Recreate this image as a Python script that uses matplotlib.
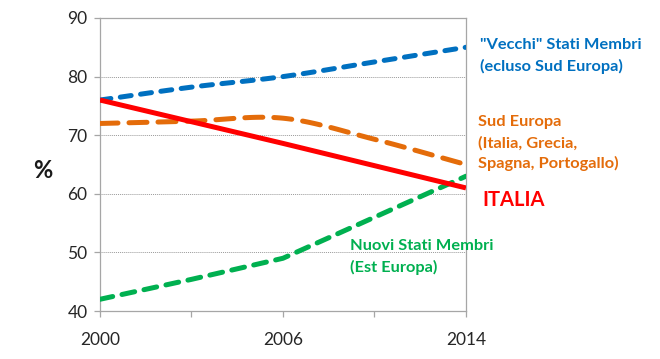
import numpy as np
import matplotlib
matplotlib.use('Agg')
import matplotlib.pyplot as plt

plt.rcParams['font.family'] = ['Lato', 'DejaVu Sans']

# data
years = ['2000', '', '2006', '', '2014']
vecchi = [76, 78.2, 80, 82.5, 85]
sud = [72, 72.4, 72.9, 69.3, 65]
italia = [76, 72.3, 68.6, 64.8, 61]
nuovi = [42, 45.4, 49, 56, 63]

blue = '#0070C0'
orange = '#E46C0A'
red = '#FF0000'
green = '#00B050'


def smooth(y, n=30):
    # catmull-rom spline, like Excel "smoothed line"
    y = np.asarray(y, dtype=float)
    p = np.concatenate([[2*y[0]-y[1]], y, [2*y[-1]-y[-2]]])
    xs, ys = [], []
    for i in range(len(y)-1):
        p0, p1, p2, p3 = p[i], p[i+1], p[i+2], p[i+3]
        t = np.linspace(0, 1, n, endpoint=False)
        v = 0.5*((2*p1) + (-p0+p2)*t + (2*p0-5*p1+4*p2-p3)*t**2 + (-p0+3*p1-3*p2+p3)*t**3)
        xs.append(i+t)
        ys.append(v)
    xs.append([len(y)-1])
    ys.append([y[-1]])
    return np.concatenate(xs), np.concatenate(ys)


fig = plt.figure(figsize=(6.6, 3.59), dpi=100)
ax = fig.add_axes([0.1515, 0.1337, 0.5545, 0.8162])
x = np.arange(len(years))

for v in [50, 60, 70, 80]:
    ax.axhline(v, color='#9a9a9a', lw=0.7, ls=(0, (1, 1)), zorder=1)

xs, ys = smooth(vecchi)
ax.plot(xs, ys, color=blue, lw=3.6, ls=(0, (2.2, 1.9)), dash_capstyle='round', zorder=3)
xs, ys = smooth(sud)
ax.plot(xs, ys, color=orange, lw=3.6, ls=(0, (3.6, 2.2)), dash_capstyle='round', zorder=3)
ax.plot(x, nuovi, color=green, lw=3.6, ls=(0, (2.6, 1.9)), dash_capstyle='round', zorder=3)
ax.plot(x, italia, color=red, lw=3.6, solid_capstyle='butt', zorder=4)

ax.set_xlim(0, 4)
ax.set_ylim(40, 90)
ax.set_yticks([40, 50, 60, 70, 80, 90])
ax.set_xticks(x)
ax.set_xticklabels(years)
for s in ax.spines.values():
    s.set_color('#a6a6a6')
    s.set_linewidth(0.9)
ax.tick_params(axis='both', colors='#a6a6a6', length=4, width=0.9, labelcolor='#262626', labelsize=12.5)
ax.tick_params(axis='x', pad=11)
ax.tick_params(axis='y', pad=5)

fig.text(0.065, 0.525, '%', fontsize=17, fontweight='bold', ha='center', va='center', color='#1a1a1a')

kw = dict(fontsize=11.8, fontweight='bold', ha='left', va='center', transform=fig.transFigure)
fig.text(480/660, 1-45/359, '"Vecchi" Stati Membri', color=blue, **kw)
fig.text(480/660, 1-66/359, '(ecluso Sud Europa)', color=blue, **kw)
fig.text(478/660, 1-122/359, 'Sud Europa', color=orange, **kw)
fig.text(478/660, 1-143/359, '(Italia, Grecia,', color=orange, **kw)
fig.text(478/660, 1-163/359, 'Spagna, Portogallo)', color=orange, **kw)
fig.text(350/660, 1-246/359, 'Nuovi Stati Membri', color=green, **kw)
fig.text(350/660, 1-267/359, '(Est Europa)', color=green, **kw)
fig.text(482/660, 1-200/359, 'ITALIA', color=red, fontsize=14.5, fontweight='bold', ha='left', va='center')

fig.savefig('out.png', dpi=100)
